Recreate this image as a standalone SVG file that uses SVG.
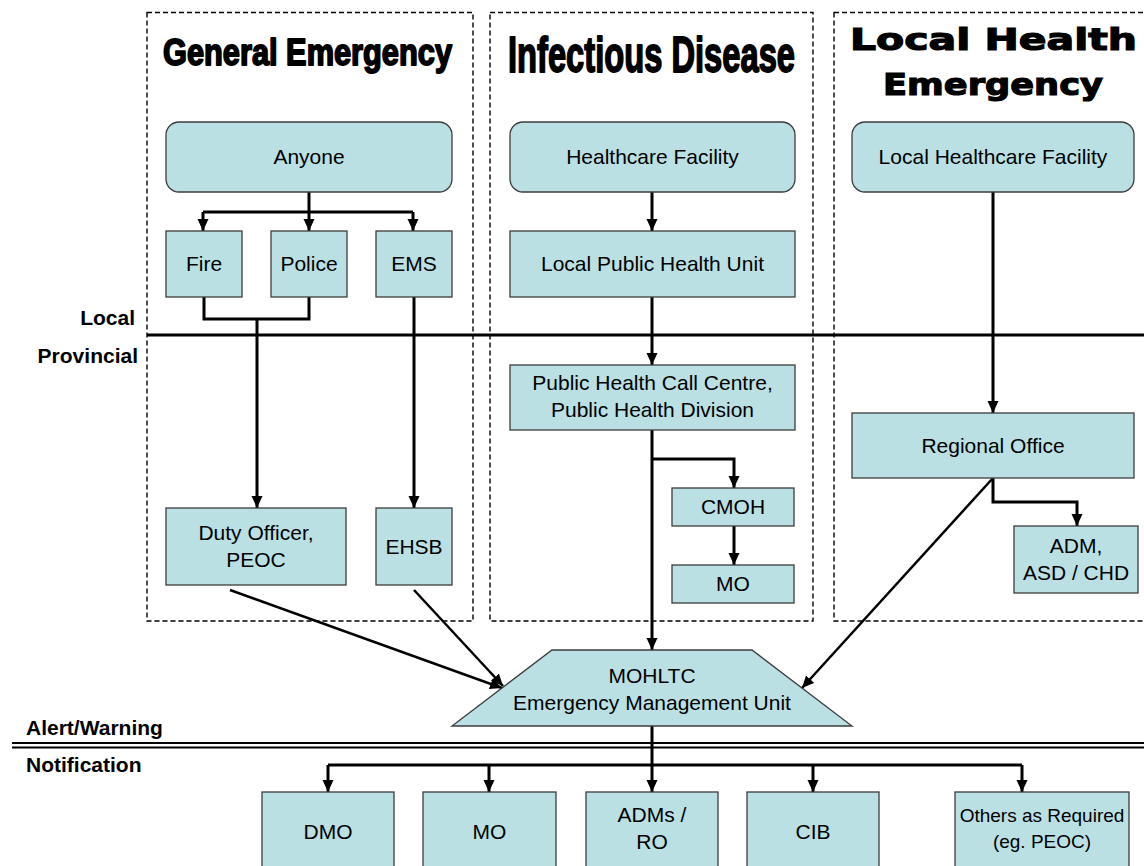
<svg xmlns="http://www.w3.org/2000/svg" width="1144" height="866" viewBox="0 0 1144 866">
  <style>
    .col { fill: none; stroke: #000; stroke-width: 1.4; stroke-dasharray: 5 3; }
    .box { fill: #BBE0E3; stroke: #3c3c3c; stroke-width: 1.3; }
    .lbl { font-family: "Liberation Sans", Arial, sans-serif; font-size: 21px; fill: #000; text-anchor: middle; }
    .lbl.sm { font-size: 19px; }
    .side { font-family: "Liberation Sans", Arial, sans-serif; font-size: 21px; font-weight: bold; fill: #000; }
    .hd1 { font-family: "Liberation Sans", Arial, sans-serif; font-weight: bold; fill: #000; stroke: #000; stroke-width: 1.8; stroke-linejoin: round; }
    .hd2 { font-family: "DejaVu Sans", "Liberation Sans", sans-serif; font-weight: bold; fill: #000; stroke: #000; stroke-width: 1.2; }
    .ln { fill: none; stroke: #000; stroke-width: 3; }
    .arr { fill: none; stroke: #000; stroke-width: 3; marker-end: url(#ah); }
    .diag { fill: none; stroke: #000; stroke-width: 2.5; marker-end: url(#ah); }
    .rule { stroke: #000; stroke-width: 3; }
    .rule2 { stroke: #000; stroke-width: 2; }
  </style>
  <defs>
    <marker id="ah" markerUnits="userSpaceOnUse" markerWidth="12" markerHeight="12" viewBox="0 0 12 12" refX="12" refY="6" orient="auto">
      <path d="M0,0.5 L12,6 L0,11.5 z" fill="#000"/>
    </marker>
  </defs>

  <rect width="1144" height="866" fill="#fff"/>

  <!-- scenario columns -->
  <g id="columns">
    <rect class="col" x="147" y="12.5" width="326" height="608.5"/>
    <rect class="col" x="490" y="12.5" width="323" height="608.5"/>
    <rect class="col" x="834" y="12.5" width="330" height="608.5"/>
  </g>

  <!-- column headings -->
  <g id="headings">
    <text class="hd1" x="163" y="65" font-size="36" textLength="289" lengthAdjust="spacingAndGlyphs">General Emergency</text>
    <text class="hd1" x="508" y="72" font-size="50" textLength="287" lengthAdjust="spacingAndGlyphs">Infectious Disease</text>
    <text class="hd2" x="850" y="50" font-size="30" textLength="287" lengthAdjust="spacingAndGlyphs">Local Health</text>
    <text class="hd2" x="883" y="95" font-size="30" textLength="220" lengthAdjust="spacingAndGlyphs">Emergency</text>
  </g>

  <!-- level dividers -->
  <g id="levels">
    <line class="rule" x1="147" y1="335" x2="1144" y2="335"/>
    <line class="rule2" x1="12" y1="743" x2="1144" y2="743"/>
    <line class="rule2" x1="12" y1="747.5" x2="1144" y2="747.5"/>
    <text class="side" x="135" y="325" text-anchor="end">Local</text>
    <text class="side" x="138" y="363" text-anchor="end">Provincial</text>
    <text class="side" x="26" y="735">Alert/Warning</text>
    <text class="side" x="26" y="772">Notification</text>
  </g>

  <!-- connectors -->
  <g id="connectors">
    <!-- general emergency -->
    <line class="ln" x1="309" y1="192" x2="309" y2="212"/>
    <line class="ln" x1="203" y1="212" x2="413" y2="212"/>
    <line class="arr" x1="203" y1="212" x2="203" y2="231"/>
    <line class="arr" x1="309" y1="212" x2="309" y2="231"/>
    <line class="arr" x1="413" y1="212" x2="413" y2="231"/>
    <polyline class="ln" points="204,297 204,319 309,319 309,297"/>
    <line class="arr" x1="257" y1="319" x2="257" y2="508"/>
    <line class="arr" x1="414" y1="297" x2="414" y2="508"/>
    <line class="diag" x1="230" y1="590" x2="502" y2="688"/>
    <line class="diag" x1="414" y1="590" x2="503" y2="686"/>
    <!-- infectious disease -->
    <line class="arr" x1="652" y1="192" x2="652" y2="231"/>
    <line class="arr" x1="652" y1="297" x2="652" y2="365"/>
    <line class="arr" x1="652" y1="430" x2="652" y2="650"/>
    <polyline class="arr" points="652,459 734,459 734,488"/>
    <line class="arr" x1="734" y1="526" x2="734" y2="565"/>
    <!-- local health emergency -->
    <line class="arr" x1="993" y1="192" x2="993" y2="413"/>
    <polyline class="arr" points="993,478 993,502 1077,502 1077,526"/>
    <line class="diag" x1="993" y1="478" x2="802" y2="688"/>
    <!-- notification fan-out -->
    <line class="ln" x1="652" y1="726" x2="652" y2="765"/>
    <line class="ln" x1="328" y1="765" x2="1022" y2="765"/>
    <line class="arr" x1="328" y1="765" x2="328" y2="792"/>
    <line class="arr" x1="489" y1="765" x2="489" y2="792"/>
    <line class="arr" x1="652" y1="765" x2="652" y2="792"/>
    <line class="arr" x1="813" y1="765" x2="813" y2="792"/>
    <line class="arr" x1="1022" y1="765" x2="1022" y2="792"/>
  </g>

  <!-- nodes -->
  <g id="anyone">
    <rect class="box" x="166" y="122" width="286" height="70" rx="13"/>
    <text class="lbl" x="309" y="164">Anyone</text>
  </g>
  <g id="fire">
    <rect class="box" x="166" y="231" width="76" height="66"/>
    <text class="lbl" x="204" y="271">Fire</text>
  </g>
  <g id="police">
    <rect class="box" x="271" y="231" width="76" height="66"/>
    <text class="lbl" x="309" y="271">Police</text>
  </g>
  <g id="ems">
    <rect class="box" x="376" y="231" width="76" height="66"/>
    <text class="lbl" x="414" y="271">EMS</text>
  </g>
  <g id="duty-officer">
    <rect class="box" x="166" y="508" width="180" height="77"/>
    <text class="lbl" x="256" y="540">Duty Officer,</text>
    <text class="lbl" x="256" y="567">PEOC</text>
  </g>
  <g id="ehsb">
    <rect class="box" x="376" y="508" width="76" height="77"/>
    <text class="lbl" x="414" y="554">EHSB</text>
  </g>

  <g id="healthcare-facility">
    <rect class="box" x="510" y="122" width="285" height="70" rx="13"/>
    <text class="lbl" x="652.5" y="164">Healthcare Facility</text>
  </g>
  <g id="public-health-unit">
    <rect class="box" x="510" y="231" width="285" height="66"/>
    <text class="lbl" x="652.5" y="271">Local Public Health Unit</text>
  </g>
  <g id="call-centre">
    <rect class="box" x="510" y="365" width="285" height="65"/>
    <text class="lbl" x="652.5" y="390">Public Health Call Centre,</text>
    <text class="lbl" x="652.5" y="417">Public Health Division</text>
  </g>
  <g id="cmoh">
    <rect class="box" x="672" y="488" width="122" height="38"/>
    <text class="lbl" x="733" y="514">CMOH</text>
  </g>
  <g id="mo-provincial">
    <rect class="box" x="672" y="565" width="122" height="38"/>
    <text class="lbl" x="733" y="591">MO</text>
  </g>

  <g id="local-healthcare-facility">
    <rect class="box" x="852" y="122" width="282" height="70" rx="13"/>
    <text class="lbl" x="993" y="164">Local Healthcare Facility</text>
  </g>
  <g id="regional-office">
    <rect class="box" x="852" y="413" width="282" height="65"/>
    <text class="lbl" x="993" y="453">Regional Office</text>
  </g>
  <g id="adm">
    <rect class="box" x="1014" y="526" width="124" height="67"/>
    <text class="lbl" x="1076" y="553">ADM,</text>
    <text class="lbl" x="1076" y="580">ASD / CHD</text>
  </g>

  <g id="emu">
    <polygon class="box" points="552,650 752,650 852,726 452,726"/>
    <text class="lbl" x="652" y="683">MOHLTC</text>
    <text class="lbl" x="652" y="710">Emergency Management Unit</text>
  </g>

  <g id="dmo">
    <rect class="box" x="262" y="792" width="132" height="90"/>
    <text class="lbl" x="328" y="839">DMO</text>
  </g>
  <g id="mo">
    <rect class="box" x="423" y="792" width="133" height="90"/>
    <text class="lbl" x="489.5" y="839">MO</text>
  </g>
  <g id="adms-ro">
    <rect class="box" x="586" y="792" width="132" height="90"/>
    <text class="lbl" x="652" y="822">ADMs /</text>
    <text class="lbl" x="652" y="849">RO</text>
  </g>
  <g id="cib">
    <rect class="box" x="747" y="792" width="132" height="90"/>
    <text class="lbl" x="813" y="839">CIB</text>
  </g>
  <g id="others">
    <rect class="box" x="955" y="792" width="174" height="90"/>
    <text class="lbl sm" x="1042" y="822">Others as Required</text>
    <text class="lbl sm" x="1042" y="848">(eg. PEOC)</text>
  </g>
</svg>
